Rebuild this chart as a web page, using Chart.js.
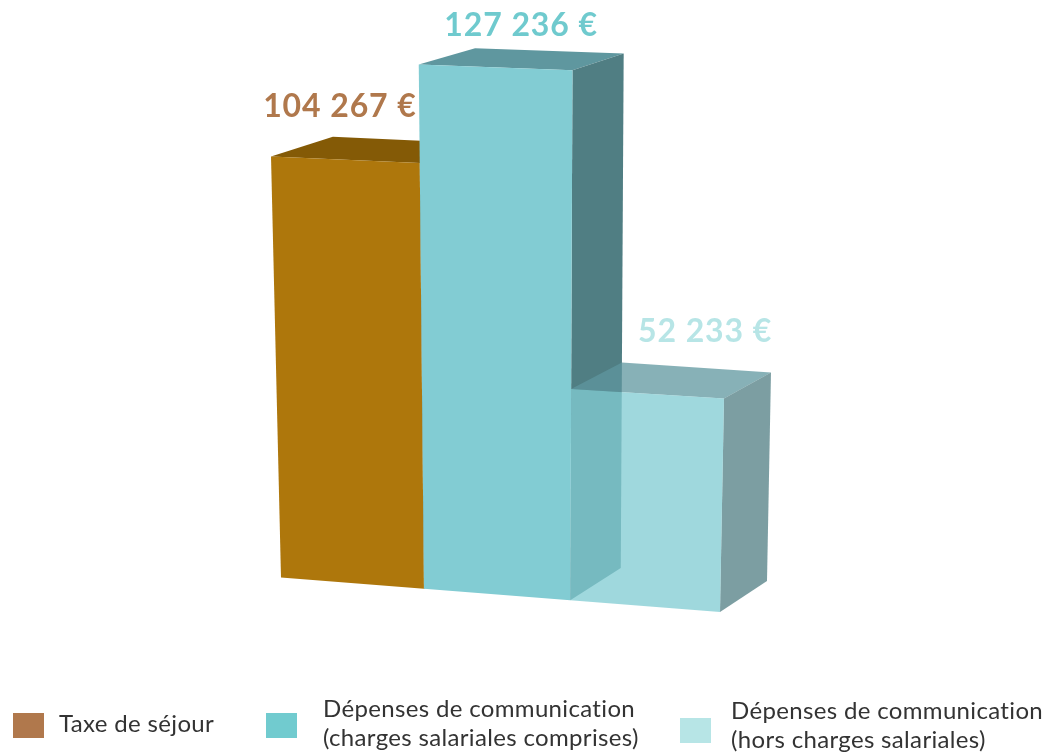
<!DOCTYPE html>
<html lang="fr">
<head>
<meta charset="utf-8">
<title>Taxe de séjour et dépenses de communication</title>
<script src="https://cdn.jsdelivr.net/npm/chart.js@4/dist/chart.umd.min.js"></script>
<style>
    html, body { margin: 0; padding: 0; background: #fff; }
    #wrap { position: relative; width: 1049px; height: 753px; overflow: hidden; font-family: Lato, sans-serif; color: #333; }
    canvas { position: absolute; left: 0; top: 0; }
    .swatch { position: absolute; width: 31px; height: 25px; }
    .entry { position: absolute; font-size: 24px; letter-spacing: 0.34px; line-height: 29px; white-space: nowrap; }
</style>
</head>
<body>
<div id="wrap"><canvas id="chart" width="1049" height="753"></canvas></div>
<script>
var categories = [
    ['Taxe de séjour'],
    ['Dépenses de communication', '(charges salariales comprises)'],
    ['Dépenses de communication', '(hors charges salariales)']
];
var values = [104267, 127236, 52233];

var frontColors = ['#ae770c', '#82ccd3', 'rgba(130,204,211,0.77)'];
var topColors = ['#845a06', '#5f979f', 'rgba(95,151,159,0.75)'];
var sideColors = ['#6a4a05', '#507e83', 'rgba(80,126,131,0.75)'];
var labelColors = ['#b0784c', '#6fcace', '#b7e5e6'];
var legendColors = ['#b0784c', '#71cbcf', '#b7e5e6'];

// where the front and back planes of the bars land on the page: bottom-left, bottom-right, top-right, top-left
var frontPlane = quadMap([[281, 577.5], [720, 612], [730, 76], [268.7, 59]]);
var backPlane = quadMap([[341, 543], [767, 581], [777, 59], [331, 43]]);

var labelShift = [[-5, -53], [26, -42], [58, -62]];
var legendBoxes = [[13, 713], [266, 713], [680, 718]];
var legendTexts = [[59, 708], [323, 693], [731, 695]];

// unit square to quad (perspective)
function quadMap(q) {
    var x0 = q[0][0], y0 = q[0][1], x1 = q[1][0], y1 = q[1][1], x2 = q[2][0], y2 = q[2][1], x3 = q[3][0], y3 = q[3][1];
    var sx = x0 - x1 + x2 - x3, sy = y0 - y1 + y2 - y3;
    var dx1 = x1 - x2, dx2 = x3 - x2, dy1 = y1 - y2, dy2 = y3 - y2;
    var den = dx1 * dy2 - dx2 * dy1;
    var g = (sx * dy2 - dx2 * sy) / den, h = (dx1 * sy - sx * dy1) / den;
    var a = x1 - x0 + g * x1, b = x3 - x0 + h * x3, d = y1 - y0 + g * y1, e = y3 - y0 + h * y3;
    return function (u, v) {
        var w = g * u + h * v + 1;
        return [(a * u + b * v + x0) / w, (d * u + e * v + y0) / w];
    };
}

function face(ctx, pts, color) {
    ctx.beginPath();
    pts.forEach(function (p, i) { if (i) ctx.lineTo(p[0], p[1]); else ctx.moveTo(p[0], p[1]); });
    ctx.closePath();
    ctx.fillStyle = color;
    ctx.fill();
}

// bars keep Chart.js geometry, they are only painted as boxes through the two planes
Chart.BarElement.prototype.draw = function (ctx) {
    var area = this.$context.chart.chartArea;
    var i = this.$context.dataIndex;
    var w = area.right - area.left, h = area.bottom - area.top;
    var u0 = (this.x - this.width / 2 - area.left) / w;
    var u1 = (this.x + this.width / 2 - area.left) / w;
    var v0 = (area.bottom - this.base) / h;
    var v1 = (area.bottom - this.y) / h;
    var F = frontPlane, B = backPlane;
    ctx.save();
    face(ctx, [F(u0, v1), F(u1, v1), B(u1, v1), B(u0, v1)], topColors[i]);
    face(ctx, [F(u1, v0), B(u1, v0), B(u1, v1), F(u1, v1)], sideColors[i]);
    face(ctx, [F(u0, v0), F(u1, v0), F(u1, v1), F(u0, v1)], frontColors[i]);
    ctx.restore();
};

var valueLabels = {
    id: 'valueLabels',
    afterDatasetsDraw: function (chart) {
        var ctx = chart.ctx, area = chart.chartArea;
        ctx.save();
        ctx.font = 'bold 32px Lato, sans-serif';
        ctx.letterSpacing = '0.9px';
        ctx.textAlign = 'center';
        ctx.textBaseline = 'middle';
        chart.getDatasetMeta(0).data.forEach(function (bar, i) {
            var p = frontPlane((bar.x - area.left) / (area.right - area.left), (area.bottom - bar.y) / (area.bottom - area.top));
            ctx.fillStyle = labelColors[i];
            ctx.fillText(String(values[i]).replace(/\B(?=(\d{3})+$)/g, ' ') + ' €', p[0] + labelShift[i][0], p[1] + labelShift[i][1]);
        });
        ctx.restore();
    }
};

new Chart(document.getElementById('chart'), {
    type: 'bar',
    data: {
        labels: categories,
        datasets: [{ data: values, backgroundColor: frontColors, barPercentage: 1, categoryPercentage: 1 }]
    },
    options: {
        responsive: false,
        animation: false,
        events: [],
        layout: { padding: 0 },
        plugins: { legend: { display: false }, tooltip: { enabled: false } },
        scales: {
            x: { display: false },
            y: { display: false, min: 0, max: Math.max.apply(null, values) }
        }
    },
    plugins: [valueLabels]
});

var wrap = document.getElementById('wrap');
categories.forEach(function (lines, i) {
    var box = document.createElement('div');
    box.className = 'swatch';
    box.style.left = legendBoxes[i][0] + 'px';
    box.style.top = legendBoxes[i][1] + 'px';
    box.style.background = legendColors[i];
    wrap.appendChild(box);
    var text = document.createElement('div');
    text.className = 'entry';
    text.style.left = legendTexts[i][0] + 'px';
    text.style.top = legendTexts[i][1] + 'px';
    text.innerHTML = lines.join('<br>');
    wrap.appendChild(text);
});
</script>
</body>
</html>
